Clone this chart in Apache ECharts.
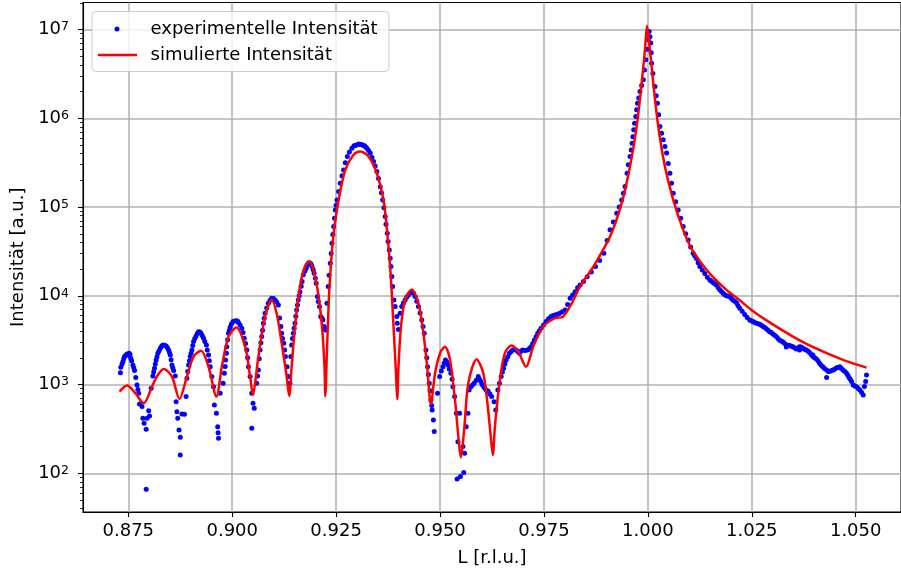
<!DOCTYPE html>
<html>
<head>
<meta charset="utf-8">
<script src="https://cdn.jsdelivr.net/npm/echarts@6/dist/echarts.min.js"></script>
<style>
  html, body { margin: 0; padding: 0; background: #fff; }
  #chart { width: 901px; height: 574px; }
</style>
</head>
<body>
<div id="chart"></div>
<script>
// axis ranges and ticks
const xMin = 0.8641;
const xMax = 1.0609;
const yMin = 36.6;
const yMax = 2.02e7;
const xTicks = [0.875, 0.9, 0.925, 0.95, 0.975, 1.0, 1.025, 1.05];
const yTicks = [1e2, 1e3, 1e4, 1e5, 1e6, 1e7];
const yMinorTicks = [40, 50, 60, 70, 80, 90,
  200, 300, 400, 500, 600, 700, 800, 900,
  2e3, 3e3, 4e3, 5e3, 6e3, 7e3, 8e3, 9e3,
  2e4, 3e4, 4e4, 5e4, 6e4, 7e4, 8e4, 9e4,
  2e5, 3e5, 4e5, 5e5, 6e5, 7e5, 8e5, 9e5,
  2e6, 3e6, 4e6, 5e6, 6e6, 7e6, 8e6, 9e6, 2e7];

const expName = "experimentelle Intensität";
const simName = "simulierte Intensität";

// measured points [L, intensity]
const expData = [
  [0.8731, 1361], [0.8732, 1567], [0.8735, 1700], [0.8737, 1811], [0.8739, 1950], [0.8741, 2065],
  [0.8744, 2138], [0.8747, 2213], [0.8750, 2138], [0.8752, 2254], [0.8754, 2200], [0.8756, 1982],
  [0.8758, 1850], [0.8761, 1663], [0.8763, 1550], [0.8765, 1435], [0.8768, 1200], [0.8771, 989],
  [0.8773, 880], [0.8775, 798], [0.8777, 604], [0.8783, 564], [0.8785, 417], [0.8788, 366],
  [0.8793, 313], [0.8795, 417], [0.8799, 508], [0.8801, 443], [0.8793, 66],
  [0.8805, 908], [0.8809, 1250], [0.8811, 1380], [0.8813, 1528], [0.8815, 1700], [0.8817, 1892],
  [0.8819, 2050], [0.8821, 2254], [0.8824, 2400], [0.8827, 2564], [0.8830, 2700], [0.8833, 2793],
  [0.8837, 2780], [0.8841, 2723], [0.8844, 2600], [0.8847, 2455], [0.8849, 2300], [0.8851, 2158],
  [0.8853, 1900], [0.8855, 1663], [0.8857, 1550], [0.8859, 1435], [0.8863, 1250], [0.8865, 641],
  [0.8867, 494], [0.8869, 417], [0.8872, 308], [0.8875, 255], [0.8875, 161], [0.8879, 466],
  [0.8885, 462], [0.8889, 731],
  [0.8891, 1178], [0.8893, 1400], [0.8895, 1663], [0.8897, 1850], [0.8899, 2065], [0.8901, 2250],
  [0.8903, 2455], [0.8905, 2750], [0.8907, 3048], [0.8910, 3300], [0.8913, 3532], [0.8916, 3750],
  [0.8919, 3945], [0.8922, 3900], [0.8925, 3784], [0.8928, 3550], [0.8931, 3327], [0.8934, 3050],
  [0.8938, 2793], [0.8940, 2450], [0.8943, 2158], [0.8945, 1850], [0.8947, 1585], [0.8951, 1230],
  [0.8955, 946], [0.8957, 589], [0.8962, 474], [0.8965, 335], [0.8966, 287], [0.8967, 248],
  [0.8971, 798],
  [0.8978, 1035], [0.8981, 1340], [0.8983, 1600], [0.8984, 1892], [0.8986, 2250], [0.8987, 2673],
  [0.8989, 3200], [0.8991, 3784], [0.8993, 4100], [0.8995, 4426], [0.8998, 4800], [0.9002, 5117],
  [0.9006, 5200], [0.9010, 5248], [0.9013, 5150], [0.9015, 4989], [0.9019, 4700], [0.9023, 4315],
  [0.9026, 3850], [0.9029, 3327], [0.9032, 2900], [0.9035, 2455], [0.9037, 2000], [0.9039, 1585],
  [0.9043, 1230], [0.9047, 798], [0.9050, 615], [0.9053, 541], [0.9047, 321],
  [0.9059, 1035], [0.9061, 1250], [0.9063, 1462], [0.9065, 1950], [0.9067, 2455], [0.9069, 2950],
  [0.9071, 3467], [0.9073, 4100], [0.9075, 4909], [0.9077, 5600], [0.9079, 6368], [0.9083, 7300],
  [0.9087, 8260], [0.9091, 8900], [0.9095, 9397], [0.9099, 9300], [0.9103, 8995], [0.9107, 8500],
  [0.9111, 7889], [0.9114, 5623], [0.9117, 4500], [0.9119, 3784], [0.9121, 3300], [0.9124, 2924],
  [0.9126, 2450], [0.9128, 2065], [0.9132, 1585], [0.9136, 1230], [0.9139, 1035],
  [0.9141, 2065], [0.9143, 2793], [0.9145, 3300], [0.9147, 3784], [0.9149, 4300], [0.9151, 4909],
  [0.9153, 5900], [0.9155, 6934], [0.9157, 7900], [0.9159, 8995], [0.9161, 10000], [0.9163, 11143],
  [0.9166, 12800], [0.9168, 14454], [0.9171, 17219], [0.9175, 19000], [0.9178, 20464], [0.9180, 22300],
  [0.9183, 23281], [0.9185, 23600], [0.9188, 23281], [0.9190, 22500], [0.9192, 21380], [0.9195, 19700],
  [0.9197, 17989], [0.9200, 15800], [0.9202, 13868], [0.9205, 9795], [0.9207, 8600], [0.9210, 7568],
  [0.9213, 5834], [0.9216, 5600], [0.9218, 5346], [0.9221, 4498], [0.9223, 4300], [0.9224, 4130],
  [0.9228, 8260], [0.9231, 12706], [0.9233, 17000], [0.9236, 23281], [0.9238, 30000], [0.9240, 39174],
  [0.9242, 49000], [0.9244, 60256], [0.9246, 75000], [0.9248, 92897], [0.9250, 105000], [0.9252, 120500],
  [0.9256, 150000], [0.9260, 185780], [0.9264, 225000], [0.9268, 262422], [0.9272, 315000], [0.9277, 371535],
  [0.9282, 416869], [0.9288, 461318], [0.9293, 489779], [0.9296, 495000], [0.9300, 502343], [0.9305, 512861],
  [0.9309, 508000], [0.9312, 502343], [0.9315, 496000], [0.9318, 489779], [0.9321, 476000], [0.9324, 461318],
  [0.9328, 435000], [0.9332, 405509], [0.9336, 365000], [0.9340, 325837], [0.9344, 290000], [0.9348, 251189],
  [0.9352, 210000], [0.9356, 169824], [0.9359, 145000], [0.9362, 120500], [0.9365, 98000], [0.9368, 78163],
  [0.9370, 64000], [0.9373, 50816], [0.9375, 41000], [0.9378, 32885], [0.9380, 26500], [0.9382, 21380],
  [0.9384, 16500], [0.9386, 12706], [0.9389, 8995], [0.9392, 7568], [0.9396, 5834], [0.9397, 4909],
  [0.9400, 4169], [0.9404, 6368], [0.9408, 7568],
  [0.9412, 8300], [0.9416, 8995], [0.9420, 9700], [0.9424, 10233], [0.9428, 10800], [0.9432, 11143],
  [0.9436, 10700], [0.9440, 9795], [0.9444, 8700], [0.9448, 7568], [0.9452, 6400], [0.9456, 5346],
  [0.9459, 4500], [0.9462, 3784], [0.9466, 2455], [0.9468, 2000], [0.9470, 1585], [0.9472, 1300],
  [0.9474, 1035], [0.9476, 850], [0.9478, 670], [0.9480, 580], [0.9481, 518], [0.9484, 399],
  [0.9486, 295], [0.9494, 798],
  [0.9499, 1230], [0.9503, 1420], [0.9507, 1585], [0.9510, 1750], [0.9513, 1892], [0.9516, 1800],
  [0.9519, 1663], [0.9522, 1500], [0.9526, 1340], [0.9529, 1150], [0.9531, 946], [0.9535, 731],
  [0.9539, 474], [0.9547, 474], [0.9543, 227], [0.9555, 200], [0.9559, 168],
  [0.9541, 86], [0.9549, 92], [0.9557, 102], [0.9563, 335], [0.9567, 474], [0.9570, 869],
  [0.9574, 946], [0.9578, 990], [0.9582, 1035], [0.9587, 1120], [0.9592, 1230], [0.9595, 1150],
  [0.9598, 1079], [0.9601, 1000], [0.9605, 946], [0.9608, 900], [0.9611, 869], [0.9614, 850],
  [0.9616, 832], [0.9620, 780], [0.9624, 731], [0.9630, 641], [0.9634, 518], [0.9639, 869],
  [0.9643, 1035], [0.9647, 1230], [0.9650, 1380], [0.9653, 1528], [0.9656, 1700], [0.9659, 1892],
  [0.9663, 2050], [0.9667, 2254], [0.9671, 2350], [0.9675, 2455], [0.9679, 2480], [0.9683, 2455],
  [0.9687, 2350], [0.9691, 2254], [0.9695, 2380], [0.9699, 2455], [0.9705, 2420], [0.9711, 2455],
  [0.9715, 2550], [0.9719, 2673], [0.9723, 2900], [0.9727, 3184], [0.9731, 3450], [0.9735, 3784],
  [0.9739, 4050], [0.9743, 4315], [0.9749, 4700], [0.9755, 5117], [0.9761, 5500], [0.9767, 5834],
  [0.9771, 5950], [0.9776, 6095], [0.9782, 6200], [0.9788, 6368], [0.9794, 6600], [0.9801, 6934],
  [0.9807, 8000], [0.9813, 9397], [0.9819, 10200], [0.9825, 11143], [0.9831, 12300], [0.9837, 13274],
  [0.9845, 14500], [0.9854, 16444], [0.9864, 18600], [0.9874, 21380], [0.9884, 25000], [0.9894, 30200],
  [0.9902, 42000], [0.9909, 55335], [0.9917, 68000], [0.9925, 85310], [0.9931, 100000], [0.9937, 120500],
  [0.9941, 143000], [0.9945, 170215], [0.9950, 240991], [0.9953, 300000], [0.9957, 371535], [0.9960, 440000],
  [0.9962, 524807], [0.9964, 620000], [0.9966, 741310], [0.9968, 880000], [0.9971, 1047129], [0.9973, 1250000],
  [0.9975, 1479108], [0.9978, 1700000], [0.9981, 2004472], [0.9985, 2350000], [0.9989, 2716439], [0.9992, 3500000],
  [0.9995, 4560239], [0.9998, 6000000], [1.0001, 7673615], [1.0003, 9527961], [1.0005, 8300000], [1.0007, 7046930],
  [1.0008, 5500000], [1.0009, 4187936], [1.0012, 3200000], [1.0017, 2285598], [1.0020, 1800000], [1.0023, 1479108],
  [1.0026, 1100000], [1.0029, 809096], [1.0033, 680000], [1.0037, 572796], [1.0041, 480000], [1.0045, 405509],
  [1.0049, 310000], [1.0053, 240991], [1.0057, 185000], [1.0061, 143549], [1.0067, 115000], [1.0073, 92897],
  [1.0079, 75000], [1.0085, 60256], [1.0091, 50000], [1.0097, 42658], [1.0103, 35500], [1.0109, 30200],
  [1.0113, 28000], [1.0117, 26303], [1.0121, 23500], [1.0125, 21380], [1.0131, 19500], [1.0137, 17783],
  [1.0143, 16200], [1.0149, 15101], [1.0153, 14600], [1.0157, 14125], [1.0161, 13700], [1.0165, 13274],
  [1.0169, 12400], [1.0173, 11668], [1.0177, 11200], [1.0181, 10691], [1.0185, 10300], [1.0189, 10000],
  [1.0194, 9900], [1.0198, 9795], [1.0201, 9300], [1.0205, 8913], [1.0210, 8600], [1.0214, 8260],
  [1.0217, 7700], [1.0221, 7244], [1.0227, 6700], [1.0233, 6166], [1.0239, 5700], [1.0245, 5346],
  [1.0249, 5250], [1.0253, 5129], [1.0257, 5000], [1.0261, 4909], [1.0265, 4850], [1.0269, 4786],
  [1.0273, 4650], [1.0277, 4498], [1.0281, 4400], [1.0285, 4266], [1.0289, 4100], [1.0293, 3945],
  [1.0297, 3850], [1.0301, 3715], [1.0305, 3600], [1.0309, 3467], [1.0313, 3300], [1.0317, 3162],
  [1.0321, 3100], [1.0325, 3020], [1.0329, 2900], [1.0333, 2793], [1.0333, 2650], [1.0337, 2780],
  [1.0341, 2754], [1.0345, 2700], [1.0349, 2673], [1.0353, 2600], [1.0357, 2512], [1.0361, 2560],
  [1.0365, 2673], [1.0365, 2450], [1.0369, 2650], [1.0373, 2570], [1.0377, 2500], [1.0381, 2455],
  [1.0385, 2380], [1.0389, 2291], [1.0393, 2180], [1.0397, 2065], [1.0397, 2150], [1.0401, 2000],
  [1.0405, 1950], [1.0409, 1850], [1.0413, 1738], [1.0417, 1650], [1.0421, 1585], [1.0425, 1520],
  [1.0430, 1462], [1.0430, 1197], [1.0434, 1400], [1.0438, 1413], [1.0442, 1440], [1.0446, 1462],
  [1.0450, 1500], [1.0454, 1549], [1.0458, 1560], [1.0462, 1585], [1.0466, 1520], [1.0470, 1445],
  [1.0474, 1400], [1.0478, 1340], [1.0481, 1270], [1.0484, 1202], [1.0487, 1150], [1.0490, 1079],
  [1.0494, 989], [1.0498, 960], [1.0502, 946], [1.0506, 900], [1.0510, 869], [1.0514, 820],
  [1.0518, 764], [1.0521, 950], [1.0524, 1079], [1.0526, 1282]
];

// simulated curve [L, intensity]
const simData = [
  [0.8729, 832], [0.8747, 973], [0.8767, 798], [0.8787, 615], [0.8807, 946], [0.8820, 1259],
  [0.8835, 1500], [0.8855, 1230], [0.8873, 689], [0.8891, 1230], [0.8907, 2065], [0.8925, 2410],
  [0.8943, 1585], [0.8962, 731], [0.8975, 1585], [0.8991, 3467], [0.9010, 4385], [0.9031, 2673],
  [0.9043, 1230], [0.9050, 764], [0.9055, 1035], [0.9063, 2065], [0.9079, 5834], [0.9095, 8995],
  [0.9107, 6310], [0.9119, 2924], [0.9130, 1340], [0.9137, 743], [0.9143, 1585], [0.9151, 4498],
  [0.9163, 12706], [0.9175, 21380], [0.9186, 24322], [0.9204, 12706], [0.9216, 4498], [0.9222, 1585],
  [0.9224, 743], [0.9228, 2455], [0.9234, 12589], [0.9244, 50816], [0.9256, 120226], [0.9272, 263027],
  [0.9292, 389045], [0.9308, 422669], [0.9328, 371535], [0.9348, 239883], [0.9364, 120226], [0.9373, 50816],
  [0.9381, 17989], [0.9389, 3784], [0.9394, 1340], [0.9397, 682], [0.9400, 1585], [0.9406, 4498],
  [0.9416, 8995], [0.9432, 11668], [0.9448, 8260], [0.9460, 3784], [0.9469, 1585], [0.9478, 603],
  [0.9488, 1340], [0.9500, 2254], [0.9512, 2673], [0.9524, 1892], [0.9536, 670], [0.9544, 259],
  [0.9550, 151], [0.9558, 308], [0.9568, 1035], [0.9588, 1928], [0.9604, 1340], [0.9614, 615],
  [0.9622, 259], [0.9627, 161], [0.9632, 335], [0.9643, 1035], [0.9656, 2254], [0.9672, 2754],
  [0.9688, 2350], [0.9707, 1585], [0.9724, 2673], [0.9748, 4498], [0.9776, 5585], [0.9796, 5834],
  [0.9817, 8260], [0.9837, 12706], [0.9869, 21380], [0.9909, 46452], [0.9937, 110662], [0.9957, 286418],
  [0.9973, 809096], [0.9985, 2494516], [0.9993, 5915616], [0.9998, 11040786], [1.0005, 5915616], [1.0013, 2494516],
  [1.0025, 809096], [1.0041, 286418], [1.0061, 120500], [1.0085, 55335], [1.0109, 31623], [1.0149, 17783],
  [1.0189, 11668], [1.0221, 8913], [1.0249, 6934], [1.0293, 5012], [1.0349, 3467], [1.0389, 2754],
  [1.0430, 2254], [1.0474, 1862], [1.0526, 1549]
];

const font = "DejaVu Sans";
const chart = echarts.init(document.getElementById("chart"));

chart.setOption({
  animation: false,
  grid: {
    left: 83,
    right: 0,
    top: 2.5,
    bottom: 62,
    show: true,
    borderColor: "#000",
    borderWidth: 1.1
  },
  xAxis: {
    type: "value",
    min: xMin,
    max: xMax,
    name: "L [r.l.u.]",
    nameLocation: "middle",
    nameGap: 37,
    nameTextStyle: { fontFamily: font, fontSize: 18, color: "#000" },
    axisLine: { onZero: false, lineStyle: { color: "#000", width: 1.1 } },
    axisTick: {
      length: 5,
      customValues: xTicks,
      lineStyle: { color: "#000", width: 1.1 }
    },
    axisLabel: {
      customValues: xTicks,
      margin: 10,
      fontFamily: font,
      fontSize: 18,
      color: "#000",
      formatter: function(v) {
        return v.toFixed(3);
      }
    },
    splitLine: { show: true, lineStyle: { color: "#b0b0b0", width: 1.5 } }
  },
  yAxis: [
    {
      type: "log",
      min: yMin,
      max: yMax,
      name: "Intensität [a.u.]",
      nameLocation: "middle",
      nameGap: 54,
      nameTextStyle: { fontFamily: font, fontSize: 18, color: "#000" },
      axisLine: { onZero: false, lineStyle: { color: "#000", width: 1.1 } },
      axisTick: {
        length: 5,
        customValues: yTicks,
        lineStyle: { color: "#000", width: 1.1 }
      },
      axisLabel: {
        customValues: yTicks,
        margin: 14,
        formatter: function(v) {
          return "{b|10}{s|" + Math.round(Math.log10(v)) + "}";
        },
        rich: {
          b: { fontFamily: font, fontSize: 18, color: "#000", verticalAlign: "bottom", lineHeight: 18 },
          s: { fontFamily: font, fontSize: 12.5, color: "#000", verticalAlign: "top", lineHeight: 13 }
        }
      },
      splitLine: { show: true, lineStyle: { color: "#b0b0b0", width: 1.5 } }
    },
    {
      type: "log",
      min: yMin,
      max: yMax,
      position: "left",
      axisLine: { show: false },
      axisLabel: { show: false },
      splitLine: { show: false },
      axisTick: {
        length: 3,
        customValues: yMinorTicks,
        lineStyle: { color: "#000", width: 0.8 }
      }
    }
  ],
  series: [
    {
      name: expName,
      type: "scatter",
      data: expData,
      symbolSize: 5,
      itemStyle: { color: "#0000ff", opacity: 1 },
      silent: true
    },
    {
      name: simName,
      type: "line",
      data: simData,
      symbol: "none",
      smooth: 0.3,
      lineStyle: { color: "#ff0000", width: 2.5 },
      silent: true,
      z: 3
    }
  ],
  // legend box, drawn like the matplotlib one
  graphic: [
    {
      type: "rect",
      z: 100,
      shape: { x: 92, y: 11.5, width: 297, height: 60, r: 4 },
      style: { fill: "rgba(255,255,255,0.8)", stroke: "#cccccc", lineWidth: 1 }
    },
    {
      type: "circle",
      z: 101,
      shape: { cx: 117, cy: 29, r: 2.5 },
      style: { fill: "#0000ff" }
    },
    {
      type: "line",
      z: 101,
      shape: { x1: 98, y1: 55, x2: 137, y2: 55 },
      style: { stroke: "#ff0000", lineWidth: 2.5 }
    },
    {
      type: "text",
      z: 101,
      x: 150.5,
      y: 29,
      style: { text: expName, font: "18px " + font, fill: "#000", verticalAlign: "middle" }
    },
    {
      type: "text",
      z: 101,
      x: 150.5,
      y: 55,
      style: { text: simName, font: "18px " + font, fill: "#000", verticalAlign: "middle" }
    }
  ]
});
</script>
</body>
</html>
